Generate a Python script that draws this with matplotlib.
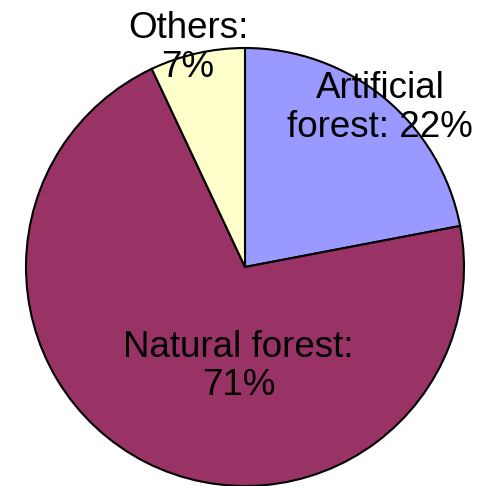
import matplotlib.pyplot as plt

# Forest share data
labels = ["Artificial\nforest: 22%", "Natural forest:\n71%", "Others:\n7%"]
shares = [22, 71, 7]
colors = ["#9999FF", "#993366", "#FFFFCC"]

# label anchor points (data units, pie radius = 1)
label_x = [0.616, -0.03, -0.26]
label_y = [0.725, -0.455, 1.0]

plt.rcParams['font.family'] = ['Liberation Sans', 'DejaVu Sans']

fig = plt.figure(figsize=(4.85, 4.86), dpi=100)
ax = fig.add_axes([0, 0, 1, 1])

ax.pie(shares, colors=colors, startangle=90, counterclock=False,
       wedgeprops=dict(edgecolor='black', linewidth=1.5))

for lab, x, y in zip(labels, label_x, label_y):
    ax.text(x, y, lab, ha='center', va='center', fontsize=26.5, linespacing=1.13)

ax.set_xlim(-245 / 219, 240 / 219)
ax.set_ylim(-219 / 219, 267 / 219)
ax.set_aspect('auto')
ax.axis('off')

fig.savefig("out.png", dpi=100)
